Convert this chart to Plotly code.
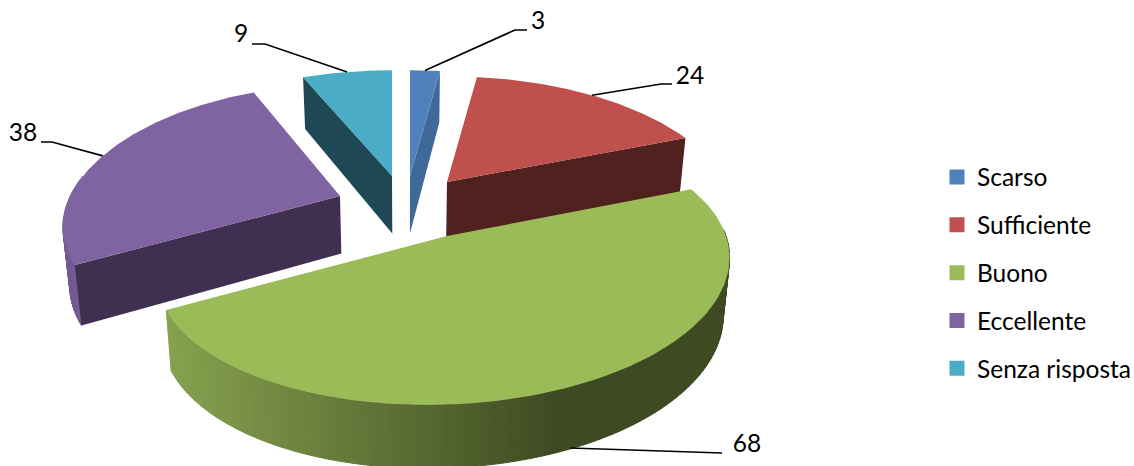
import numpy as np
import plotly.graph_objects as go

# --- data ---
categories = ["Scarso", "Sufficiente", "Buono", "Eccellente", "Senza risposta"]
values = [3, 24, 68, 38, 9]
colors = ["#4F81BD", "#C0504D", "#9BBB59", "#8064A2", "#4BACC6"]
cut_colors = ["#3E6998", "#50211E", "#3F4A22", "#3F2F50", "#1E4853"]

# --- 3D projection style (pixels of the page) ---
R, V, P = 278.0, 130.0, 0.23     # disc radii and perspective
X0, Q = 406.0, 0.02              # vanishing axis and convergence of the depth
DEPTH, DEPTH_Y = 57.5, 6.0       # thickness of the pie
apexes = {"Scarso": (410, 176), "Sufficiente": (447, 182), "Buono": (447, 236),
          "Eccellente": (340, 196), "Senza risposta": (392, 176)}
# per-slice projection tweaks: x scale, y perspective, x shear, y shear
tweaks = {"Eccellente": (0.97, 0.17, 0.0, 0.0), "Buono": (1.0, P, -15.0, -3.0)}
cut_side = {"Scarso": "end", "Sufficiente": "end", "Eccellente": "start", "Senza risposta": "start"}
elbows = {"Scarso": [(515, 30), (527, 30)], "Sufficiente": [(661, 84), (672, 84)],
          "Buono": [(710, 453), (722, 453)], "Eccellente": [(52, 142), (41, 142)],
          "Senza risposta": [(265, 44), (252, 44)]}
label_pos = {"Scarso": (538, 23), "Sufficiente": (690, 78), "Buono": (747, 446),
             "Eccellente": (23, 135), "Senza risposta": (241, 36)}
FONT = "Lato, Carlito, Calibri, sans-serif"

total = sum(values)
edges = np.concatenate([[0], np.cumsum(values)]) / total * 360.0
spans = {c: (edges[i], edges[i + 1]) for i, c in enumerate(categories)}
col = dict(zip(categories, colors))
cut = dict(zip(categories, cut_colors))
val = dict(zip(categories, values))


def top(cat, theta):
    t = np.radians(theta)
    X, Y = np.sin(t), -np.cos(t)
    xs, py, shx, shy = tweaks.get(cat, (1.0, P, 0.0, 0.0))
    ax, ay = apexes[cat]
    return ax + xs * R * X / (1 - P * Y) + shx * Y, ay + V * Y / (1 - py * Y) + shy * X


def down(x, y, theta=None):
    Y = 0.0 if theta is None else -np.cos(np.radians(theta))
    return X0 + (x - X0) * (1 - Q), y + DEPTH + DEPTH_Y * Y


fig = go.Figure()


def poly(xs, ys, color, name, line=False):
    fig.add_trace(go.Scatter(x=list(xs) + [xs[0]], y=list(ys) + [ys[0]], mode="lines", fill="toself",
                             fillcolor=color, line=dict(color=color, width=1 if line else 0),
                             showlegend=False, hoverinfo="skip" if line else "name", name=name))


def mix(a, b, f):
    return "rgb(%d,%d,%d)" % tuple(round(a[i] + (b[i] - a[i]) * f) for i in range(3))


def band(cat, t0, t1, shade):
    ts = np.linspace(t0, t1, int((t1 - t0) / 1.5) + 2)
    for a, b in zip(ts[:-1], ts[1:]):
        pa, pb = top(cat, a), top(cat, b)
        da, db = down(*pa, a), down(*pb, b)
        poly([pa[0], pb[0], db[0], da[0]], [pa[1], pb[1], db[1], da[1]], shade((pa[0] + pb[0]) / 2), cat, True)


def draw(cat):
    t0, t1 = spans[cat]
    if cat == "Buono":
        band(cat, t0 + 20, t1, lambda x: mix((62, 74, 34), (134, 162, 78), float(np.clip((560 - x) / 395, 0, 1))))
    if cat == "Eccellente":
        band(cat, t0, t0 + 38, lambda x: "#745A93")
    if cat in cut_side:
        th = t0 if cut_side[cat] == "start" else t1
        ap = apexes[cat]
        p = top(cat, th)
        dp, da = down(*p, th), down(*ap)
        poly([ap[0], p[0], dp[0], da[0]], [ap[1], p[1], dp[1], da[1]], cut[cat], cat)
    ts = np.linspace(t0, t1, 120)
    pts = [top(cat, t) for t in ts]
    ap = apexes[cat]
    poly([ap[0]] + [q[0] for q in pts], [ap[1]] + [q[1] for q in pts], col[cat], cat)


for c in ["Scarso", "Senza risposta", "Sufficiente", "Eccellente", "Buono"]:
    draw(c)

# leader lines and value labels
for c in categories:
    mid = sum(spans[c]) / 2
    ax, ay = top(c, mid)
    if c == "Buono":
        ax, ay = down(ax - 10, ay + 2, mid)
    pts = [(ax, ay)] + elbows[c]
    fig.add_trace(go.Scatter(x=[q[0] for q in pts], y=[q[1] for q in pts], mode="lines",
                             line=dict(color="black", width=1.6), showlegend=False, hoverinfo="skip"))
    fig.add_trace(go.Scatter(x=[label_pos[c][0]], y=[label_pos[c][1]], mode="text", text=[str(val[c])],
                             textposition="middle center", textfont=dict(family=FONT, size=24.5, color="black"),
                             showlegend=False, hoverinfo="skip"))

# legend entries
for i, c in enumerate(categories):
    fig.add_trace(go.Scatter(x=[None], y=[None], mode="markers", name=c, legendgroup=c,
                             marker=dict(symbol="square", size=15, color=colors[i])))

fig.update_layout(
    width=1134, height=466, margin=dict(l=0, r=0, t=0, b=0, autoexpand=False),
    paper_bgcolor="white", plot_bgcolor="white",
    xaxis=dict(range=[0, 1134], visible=False, fixedrange=True),
    yaxis=dict(range=[466, 0], visible=False, fixedrange=True),
    legend=dict(x=937 / 1134, xanchor="left", y=1 - 273 / 466, yanchor="middle", tracegroupgap=13,
                font=dict(family=FONT, size=24.5, color="black"), bgcolor="rgba(0,0,0,0)", itemsizing="trace"),
)
fig.write_html("out.html", config={"displayModeBar": False},
               post_script="document.body.style.margin='0';document.documentElement.style.overflow='hidden';")
